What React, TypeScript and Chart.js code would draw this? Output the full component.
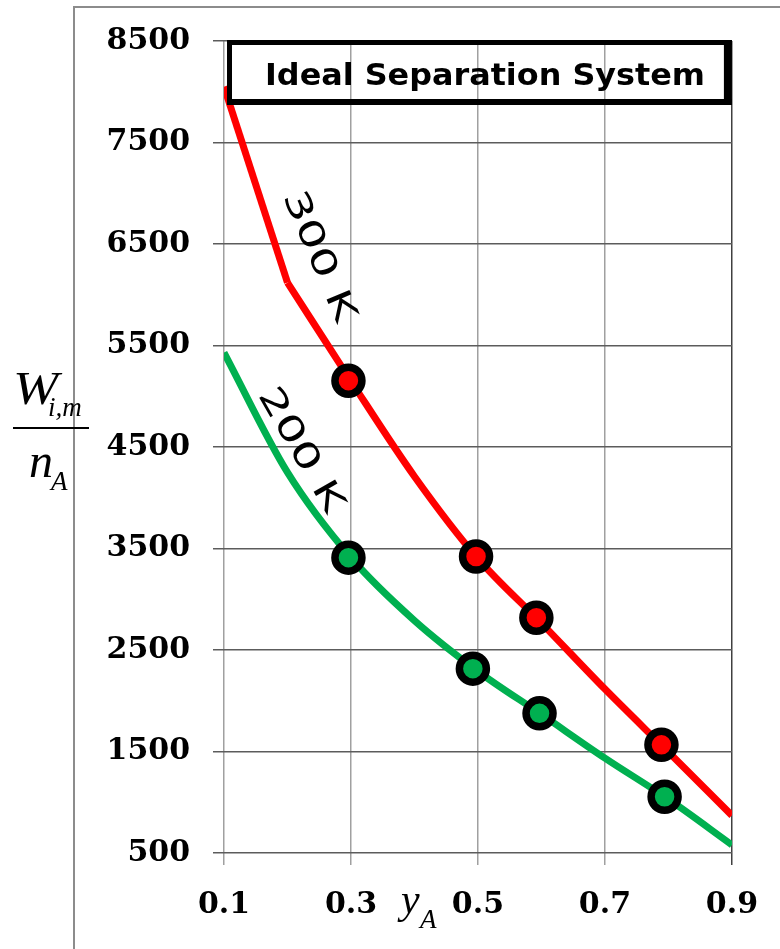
import { useEffect, useRef } from "react";
import { Chart, registerables } from "chart.js";

Chart.register(...registerables);

// ---- data ----
const xTicks = [0.1, 0.3, 0.5, 0.7, 0.9];
const yTicks = [500, 1500, 2500, 3500, 4500, 5500, 6500, 7500, 8500];

// 300 K curve: straight first piece, then smooth
const startX300 = [0.1, 0.2];
const start300 = [8050, 6120];
const curveX300 = [0.2, 0.3, 0.4, 0.5, 0.6, 0.7, 0.8, 0.9];
const curve300 = [6120, 5150, 4210, 3400, 2765, 2115, 1495, 870];

// 200 K curve
const curveX200 = [0.1, 0.2, 0.3, 0.4, 0.5, 0.6, 0.7, 0.8, 0.9];
const curve200 = [5430, 4250, 3410, 2790, 2290, 1865, 1435, 1030, 580];

// marker points
const markerX300 = [0.296, 0.497, 0.592, 0.789];
const marker300 = [5153, 3421, 2818, 1566];
const markerX200 = [0.296, 0.492, 0.597, 0.794];
const marker200 = [3410, 2316, 1876, 1054];

const titleText = "Ideal Separation System";
const label300 = "300 K";
const label200 = "200 K";
const label300Pos = [0.248, 6374];
const label200Pos = [0.2197, 4465];

const RED = "#ff0000";
const GREEN = "#00b050";

const zip = (xs: number[], ys: number[]) => xs.map((x, i) => ({ x, y: ys[i] }));

function drawText(
  ctx: CanvasRenderingContext2D,
  text: string,
  font: string,
  x: number,
  y: number,
  sx = 1
) {
  ctx.save();
  ctx.font = font;
  ctx.textAlign = "left";
  ctx.textBaseline = "alphabetic";
  ctx.fillStyle = "#000";
  ctx.translate(x, y);
  ctx.scale(sx, 1);
  ctx.fillText(text, 0, 0);
  ctx.restore();
}

const decoPlugin = {
  id: "deco",
  afterDraw(chart: any) {
    const ctx: CanvasRenderingContext2D = chart.ctx;
    const ca = chart.chartArea;
    const xs = chart.scales.x;
    const ys = chart.scales.y;

    // outer frame
    ctx.save();
    ctx.strokeStyle = "#8c8c8c";
    ctx.lineWidth = 2;
    ctx.beginPath();
    ctx.moveTo(74, 949);
    ctx.lineTo(74, 7);
    ctx.lineTo(780, 7);
    ctx.stroke();
    ctx.restore();

    // title box
    const bl = ca.left + 3;
    const bt = ca.top - 1;
    const br = ca.right;
    const bb = ca.top + 64;
    ctx.save();
    ctx.fillStyle = "#000";
    ctx.fillRect(bl, bt, br - bl, 5);
    ctx.fillRect(bl, bt, 5, bb - bt);
    ctx.fillRect(bl, bb - 6, br - bl, 6);
    ctx.fillRect(br - 8, bt, 8, bb - bt);
    ctx.font = 'bold 31px "DejaVu Sans"';
    ctx.textBaseline = "alphabetic";
    ctx.textAlign = "left";
    const tw = ctx.measureText(titleText).width;
    const sx = 440 / tw;
    ctx.translate(265, bt + 45);
    ctx.scale(sx, 1);
    ctx.fillText(titleText, 0, 0);
    ctx.restore();

    // rotated curve labels
    const drawRot = (text: string, pos: number[], angleDeg: number) => {
      ctx.save();
      ctx.translate(xs.getPixelForValue(pos[0]), ys.getPixelForValue(pos[1]));
      ctx.rotate((angleDeg * Math.PI) / 180);
      ctx.scale(1.42, 1);
      ctx.font = '34px "DejaVu Sans"';
      ctx.fillStyle = "#000";
      ctx.textAlign = "center";
      ctx.textBaseline = "middle";
      ctx.fillText(text, 0, 0);
      ctx.restore();
    };
    drawRot(label300, label300Pos, 67);
    drawRot(label200, label200Pos, 60);

    // y axis label  W_{i,m} / n_A
    drawText(ctx, "W", 'italic 46px "Liberation Serif"', 13, 404, 1.18);
    drawText(ctx, "i,m", 'italic 27px "Liberation Serif"', 48, 416);
    ctx.save();
    ctx.fillStyle = "#000";
    ctx.fillRect(13, 427, 76, 2);
    ctx.restore();
    drawText(ctx, "n", 'italic 48px "Liberation Serif"', 29, 477);
    drawText(ctx, "A", 'italic 27px "Liberation Serif"', 51, 490);

    // x axis label y_A
    drawText(ctx, "y", 'italic 42px "Liberation Serif"', 401, 913);
    drawText(ctx, "A", 'italic 27px "Liberation Serif"', 420, 928);
  },
};

export default function App() {
  const ref = useRef<HTMLCanvasElement | null>(null);

  useEffect(() => {
    if (!ref.current) return;
    const tickFont = { family: '"DejaVu Serif"', size: 30, weight: "bold" as const };
    const lineCommon = {
      borderWidth: 7,
      pointRadius: 0,
      fill: false,
      order: 1,
      cubicInterpolationMode: "monotone" as const,
    };
    const chart = new Chart(ref.current, {
      type: "line",
      data: {
        datasets: [
          {
            data: zip(markerX300, marker300),
            showLine: false,
            pointRadius: 13.5,
            pointBorderWidth: 7.5,
            pointBackgroundColor: RED,
            pointBorderColor: "#000",
            order: 0,
          },
          {
            data: zip(markerX200, marker200),
            showLine: false,
            pointRadius: 13.5,
            pointBorderWidth: 7.5,
            pointBackgroundColor: GREEN,
            pointBorderColor: "#000",
            order: 0,
          },
          {
            ...lineCommon,
            data: zip(startX300, start300),
            borderColor: RED,
            cubicInterpolationMode: "default" as const,
            tension: 0,
          },
          {
            ...lineCommon,
            data: zip(curveX300, curve300),
            borderColor: RED,
          },
          {
            ...lineCommon,
            data: zip(curveX200, curve200),
            borderColor: GREEN,
          },
        ],
      },
      options: {
        animation: false,
        responsive: false,
        events: [],
        layout: { padding: { top: 40, right: 48, left: 0, bottom: 0 } },
        plugins: {
          legend: { display: false },
          tooltip: { enabled: false },
          title: { display: false },
        },
        scales: {
          x: {
            type: "linear",
            min: 0.1,
            max: 0.9,
            afterBuildTicks: (s: any) => {
              s.ticks = xTicks.map((v) => ({ value: v }));
            },
            afterFit: (s: any) => {
              s.height = 96;
            },
            border: { display: false },
            grid: {
              color: (c: any) => (c.tick && c.tick.value === 0.9 ? "#404040" : "#a0a0a0"),
              lineWidth: 1.5,
              tickLength: 12,
            },
            ticks: {
              font: tickFont,
              color: "#000",
              padding: 22,
              maxRotation: 0,
              autoSkip: false,
              callback: (v: any) => Number(v).toFixed(1),
            },
          },
          y: {
            type: "linear",
            min: 500,
            max: 8500,
            afterBuildTicks: (s: any) => {
              s.ticks = yTicks.map((v) => ({ value: v }));
            },
            afterFit: (s: any) => {
              s.width = 224;
            },
            border: { display: false },
            grid: {
              color: "#5c5c5c",
              lineWidth: 1.5,
              tickLength: 11,
            },
            ticks: {
              font: tickFont,
              color: "#000",
              padding: 23,
              autoSkip: false,
              callback: (v: any) => String(v),
            },
          },
        },
      },
      plugins: [decoPlugin],
    });
    return () => chart.destroy();
  }, []);

  return (
    <div style={{ position: "absolute", left: 0, top: 0, width: 780, height: 949, background: "#fff" }}>
      <canvas ref={ref} width={780} height={949} style={{ display: "block" }} />
    </div>
  );
}
